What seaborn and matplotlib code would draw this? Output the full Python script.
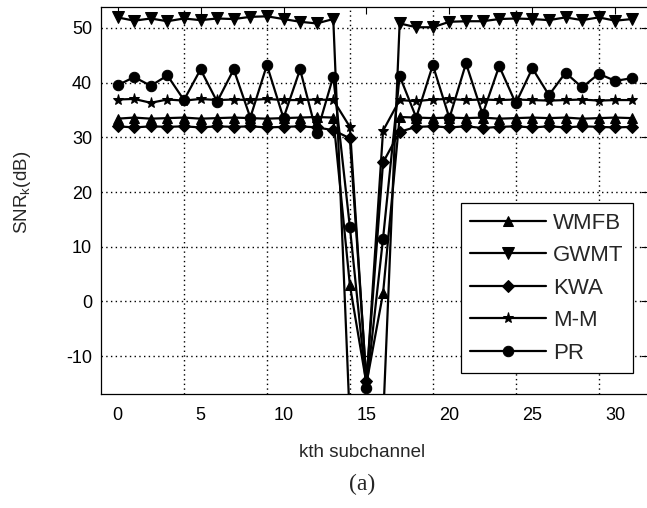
import numpy as np
import pandas as pd
import matplotlib
matplotlib.use("Agg")
import matplotlib.pyplot as plt
import seaborn as sns

# subchannel index and SNR per subchannel (dB)
k = list(range(32))
wmfb = [33.4, 33.6, 33.4, 33.5, 33.6, 33.4, 33.5, 33.6, 33.5, 33.4, 33.5, 33.6, 33.7, 33.6,
        3.0, -15.0, 1.5,
        33.7, 33.6, 33.5, 33.6, 33.5, 33.6, 33.4, 33.5, 33.6, 33.5, 33.6, 33.4, 33.5, 33.6, 33.5]
gwmt = [51.9, 51.3, 51.7, 51.2, 51.7, 51.4, 51.7, 51.6, 52.0, 52.1, 51.6, 51.1, 50.8, 51.6,
        -22.0, -30.0, -22.0,
        50.8, 50.1, 50.1, 51.1, 51.2, 51.2, 51.6, 51.7, 51.6, 51.4, 51.9, 51.4, 51.9, 51.3, 51.6]
kwa = [32.0, 31.8, 32.0, 31.9, 32.0, 31.8, 32.0, 31.9, 32.0, 31.8, 31.9, 32.0, 31.8, 31.3,
       29.8, -14.5, 25.4,
       31.0, 31.9, 32.0, 31.8, 32.0, 31.7, 31.9, 32.0, 31.8, 32.0, 31.8, 32.0, 31.9, 31.8, 31.9]
mm = [36.9, 37.0, 36.3, 36.9, 36.7, 37.0, 36.8, 36.9, 36.8, 37.0, 36.8, 36.8, 36.9, 36.8,
      31.9, -15.0, 31.2,
      36.8, 36.6, 36.9, 37.0, 36.8, 36.9, 36.8, 36.9, 36.8, 36.7, 36.8, 36.9, 36.7, 36.8, 36.8]
pr = [39.5, 41.0, 39.4, 41.3, 36.8, 42.4, 36.5, 42.4, 33.6, 43.2, 33.5, 42.4, 30.7, 41.1,
      13.6, -15.8, 11.5,
      41.2, 33.6, 43.2, 33.5, 43.5, 34.2, 43.0, 36.2, 42.6, 37.7, 41.8, 39.1, 41.6, 40.3, 40.8]

methods = ["WMFB", "GWMT", "KWA", "M-M", "PR"]
series = [wmfb, gwmt, kwa, mm, pr]
markers = {"WMFB": "^", "GWMT": "v", "KWA": "D", "M-M": "*", "PR": "o"}
msizes = {"WMFB": 7, "GWMT": 8, "KWA": 6, "M-M": 8, "PR": 7.5}

xticks = list(range(0, 31, 5))
xgrid = list(range(4, 30, 5))
yticks = list(range(-10, 51, 10))

df = pd.DataFrame({
    "k": k * len(methods),
    "snr": sum(series, []),
    "method": np.repeat(methods, len(k)),
})

sns.set_theme(style="white")
plt.rcParams["font.family"] = ["Liberation Sans", "DejaVu Sans"]
plt.rcParams["axes.unicode_minus"] = False
plt.rcParams["mathtext.fontset"] = "custom"
plt.rcParams["mathtext.rm"] = "Liberation Sans"
plt.rcParams["mathtext.it"] = "Liberation Sans:italic"

fig = plt.figure(figsize=(6.47, 5.08), dpi=100)
ax = fig.add_axes([101 / 647, 114 / 508, 547.5 / 647, 387 / 508])

for m in methods:
    sns.lineplot(data=df[df["method"] == m], x="k", y="snr", ax=ax, color="black",
                 linewidth=1.6, marker=markers[m], markersize=msizes[m],
                 markerfacecolor="black", markeredgecolor="black", label=m)

ax.set_xlim(-1, 32)
ax.set_ylim(-16.9, 53.8)
ax.set_xticks(xticks)
ax.set_xticks(xgrid, minor=True)
ax.set_yticks(yticks)

dots = (0, (1, 2.4))
ax.grid(False)
ax.xaxis.grid(True, which="minor", color="black", linestyle=dots, linewidth=1.0)
ax.yaxis.grid(True, which="major", color="black", linestyle=dots, linewidth=1.0)
ax.set_axisbelow(True)

ax.tick_params(axis="both", which="major", direction="in", length=5, width=0.8,
               labelsize=13, colors="black", top=True, right=True)
ax.tick_params(axis="x", which="major", pad=9)
ax.tick_params(axis="y", which="major", pad=6.5)
ax.tick_params(axis="x", which="minor", length=0)
for s in ax.spines.values():
    s.set_color("black")
    s.set_linewidth(0.9)

ax.set_xlabel("kth subchannel", fontsize=13.5)
ax.xaxis.set_label_coords(0.477, -0.128)
ax.set_ylabel(r"SNR$_\mathrm{k}$(dB)", fontsize=13.5)
ax.yaxis.set_label_coords(-0.124, 0.522)

handles, labels = ax.get_legend_handles_labels()
leg = ax.legend(handles, labels, loc="lower right", bbox_to_anchor=(0.972, 0.054),
                fontsize=16, frameon=True, fancybox=False, edgecolor="black",
                framealpha=1.0, handlelength=3.4, handletextpad=0.35,
                labelspacing=0.52, borderpad=0.42, borderaxespad=0.0)
leg.get_frame().set_linewidth(0.9)

fig.text(362 / 647, 1 - 484 / 508, "(a)", ha="center", va="center",
         fontsize=17, family="Liberation Serif")

fig.savefig("out.png", dpi=100)
